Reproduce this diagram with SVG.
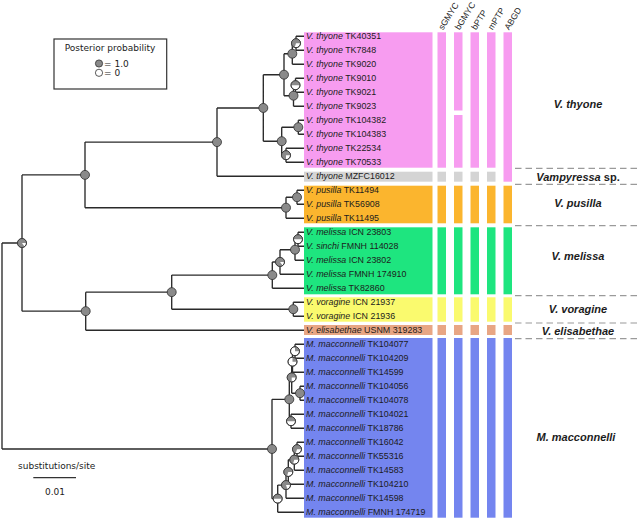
<svg xmlns="http://www.w3.org/2000/svg" width="640" height="520" viewBox="0 0 640 520">
<style>
.br{fill:none;stroke:#2a2a2a;stroke-width:1.35}
.nd{fill:#8a8a8a;stroke:#2e2e2e;stroke-width:0.8}
.wn{fill:#ffffff;stroke:#2e2e2e;stroke-width:0.8}
.wg{fill:#8a8a8a;stroke:none}
.ol{fill:none;stroke:#2e2e2e;stroke-width:0.8}
.tl{font-family:"Liberation Sans",Arial,sans-serif;font-size:8.9px;fill:#1c1c1c}
.tl .i{font-style:italic}
.hd{font-family:"Liberation Sans",Arial,sans-serif;font-size:8.6px;fill:#1c1c1c}
.gl{font-family:"Liberation Sans",Arial,sans-serif;font-size:11px;font-weight:bold;font-style:italic;fill:#1c1c1c;text-anchor:middle}
.dj{font-family:"DejaVu Sans",Verdana,sans-serif;font-size:9px;fill:#1c1c1c}
.dash{stroke:#9a9a9a;stroke-width:1.2;stroke-dasharray:6.5 4}
.pk{fill:#f79cf0}.gy{fill:#d4d4d4}.or{fill:#fbb52e}.gr{fill:#1ee57f}.ye{fill:#fafa6e}.sa{fill:#e8a684}.bl{fill:#7485ef}
</style>
<rect width="640" height="520" fill="#ffffff"/>

<g id="legend">
<rect x="54" y="39" width="112.7" height="50" fill="#ffffff" stroke="#333" stroke-width="1.2"/>
<text class="dj" x="110" y="50.5" text-anchor="middle">Posterior probability</text>
<circle cx="99" cy="63.5" r="3.6" class="nd"/>
<text class="dj" x="104" y="66.7">= 1.0</text>
<circle cx="99" cy="72.8" r="3.6" class="wn"/>
<text class="dj" x="104" y="76">= 0</text>
</g>

<g id="scalebar">
<text class="dj" x="56.7" y="469" text-anchor="middle">substitutions/site</text>
<line x1="33.3" y1="477.7" x2="76" y2="477.7" stroke="#333" stroke-width="1.2"/>
<text class="dj" x="55" y="495" text-anchor="middle">0.01</text>
</g>

<g id="bands">
<rect x="304" y="32.3" width="128.5" height="135.4" class="pk"/>
<rect x="304" y="171.7" width="128.5" height="10" class="gy"/>
<rect x="304" y="185.7" width="128.5" height="37.6" class="or"/>
<rect x="304" y="227.3" width="128.5" height="67" class="gr"/>
<rect x="304" y="297.3" width="128.5" height="24.4" class="ye"/>
<rect x="304" y="325" width="128.5" height="10" class="sa"/>
<rect x="304" y="338" width="128.5" height="179.7" class="bl"/>
</g>

<g id="columns">
<g id="col-sGMYC">
<rect x="437.5" y="32.3" width="8.5" height="135.4" class="pk"/>
<rect x="437.5" y="171.7" width="8.5" height="10" class="gy"/>
<rect x="437.5" y="185.7" width="8.5" height="37.6" class="or"/>
<rect x="437.5" y="227.3" width="8.5" height="67" class="gr"/>
<rect x="437.5" y="297.3" width="8.5" height="24.4" class="ye"/>
<rect x="437.5" y="325" width="8.5" height="10" class="sa"/>
<rect x="437.5" y="338" width="8.5" height="179.7" class="bl"/>
</g>
<g id="col-bGMYC">
<rect x="454" y="32.3" width="8.5" height="78.2" class="pk"/>
<rect x="454" y="115" width="8.5" height="52.7" class="pk"/>
<rect x="454" y="171.7" width="8.5" height="10" class="gy"/>
<rect x="454" y="185.7" width="8.5" height="37.6" class="or"/>
<rect x="454" y="227.3" width="8.5" height="67" class="gr"/>
<rect x="454" y="297.3" width="8.5" height="24.4" class="ye"/>
<rect x="454" y="325" width="8.5" height="10" class="sa"/>
<rect x="454" y="338" width="8.5" height="179.7" class="bl"/>
</g>
<g id="col-bPTP">
<rect x="470.5" y="32.3" width="8.5" height="135.4" class="pk"/>
<rect x="470.5" y="171.7" width="8.5" height="10" class="gy"/>
<rect x="470.5" y="185.7" width="8.5" height="37.6" class="or"/>
<rect x="470.5" y="227.3" width="8.5" height="67" class="gr"/>
<rect x="470.5" y="297.3" width="8.5" height="24.4" class="ye"/>
<rect x="470.5" y="325" width="8.5" height="10" class="sa"/>
<rect x="470.5" y="338" width="8.5" height="179.7" class="bl"/>
</g>
<g id="col-mPTP">
<rect x="487" y="32.3" width="8.5" height="135.4" class="pk"/>
<rect x="487" y="171.7" width="8.5" height="10" class="gy"/>
<rect x="487" y="185.7" width="8.5" height="37.6" class="or"/>
<rect x="487" y="227.3" width="8.5" height="67" class="gr"/>
<rect x="487" y="297.3" width="8.5" height="24.4" class="ye"/>
<rect x="487" y="325" width="8.5" height="10" class="sa"/>
<rect x="487" y="338" width="8.5" height="179.7" class="bl"/>
</g>
<g id="col-ABGD">
<rect x="503.5" y="32.3" width="8.5" height="149.4" class="pk"/>
<rect x="503.5" y="185.7" width="8.5" height="37.6" class="or"/>
<rect x="503.5" y="227.3" width="8.5" height="67" class="gr"/>
<rect x="503.5" y="297.3" width="8.5" height="24.4" class="ye"/>
<rect x="503.5" y="325" width="8.5" height="10" class="sa"/>
<rect x="503.5" y="338" width="8.5" height="179.7" class="bl"/>
</g>
<text class="hd" transform="translate(443,30.5) rotate(-58)">sGMYC</text>
<text class="hd" transform="translate(459.5,30.5) rotate(-58)">bGMYC</text>
<text class="hd" transform="translate(476,30.5) rotate(-58)">bPTP</text>
<text class="hd" transform="translate(492.5,30.5) rotate(-58)">mPTP</text>
<text class="hd" transform="translate(509,30.5) rotate(-58)">ABGD</text>
</g>

<g id="dividers">
<line x1="515" y1="168.3" x2="640" y2="168.3" class="dash"/>
<line x1="515" y1="184.3" x2="640" y2="184.3" class="dash"/>
<line x1="515" y1="225.7" x2="640" y2="225.7" class="dash"/>
<line x1="515" y1="295.7" x2="640" y2="295.7" class="dash"/>
<line x1="515" y1="323" x2="640" y2="323" class="dash"/>
<line x1="515" y1="338.7" x2="640" y2="338.7" class="dash"/>
</g>

<g id="group-labels">
<text class="gl" x="578" y="108">V. thyone</text>
<text class="gl" x="578" y="180.7">Vampyressa<tspan font-style="normal"> sp.</tspan></text>
<text class="gl" x="578" y="207.3">V. pusilla</text>
<text class="gl" x="578" y="259.7">V. melissa</text>
<text class="gl" x="578" y="313">V. voragine</text>
<text class="gl" x="578" y="334.7">V. elisabethae</text>
<text class="gl" x="576" y="441">M. macconnelli</text>
</g>

<g id="connectors">
<path class="br" d="
M2 243.03 V448.98 M2 243.03 H22 M2 448.98 H272
M22 174.89 V311.17 M22 174.89 H85 M22 311.17 H85.7
M85 142.08 V207.7 M85 142.08 H217 M85 207.7 H286
M217 107.95 V176.2 M217 107.95 H263.3 M217 176.2 H304
M263.3 74.7 V141.2 M263.3 74.7 H284 M263.3 141.2 H281.7
M284 53.7 V95.7 M284 53.7 H292.3 M284 95.7 H293.5
M292.3 43.2 V64.2 M292.3 43.2 H296 M292.3 64.2 H304
M296 36.2 V50.2 M296 36.2 H304 M296 50.2 H304
M293.5 85.2 V106.2 M293.5 85.2 H295.5 M293.5 106.2 H304
M295.5 78.2 V92.2 M295.5 78.2 H304 M295.5 92.2 H304
M281.7 127.2 V155.2 M281.7 127.2 H298.3 M281.7 155.2 H286
M298.3 120.2 V134.2 M298.3 120.2 H304 M298.3 134.2 H304
M286 148.2 V162.2 M286 148.2 H304 M286 162.2 H304
M286 197.2 V218.2 M286 197.2 H297 M286 218.2 H304
M297 190.2 V204.2 M297 190.2 H304 M297 204.2 H304
M85.7 292.14 V330.2 M85.7 292.14 H171.7 M85.7 330.2 H304
M171.7 275.08 V309.2 M171.7 275.08 H272.3 M171.7 309.2 H293.3
M272.3 261.95 V288.2 M272.3 261.95 H280 M272.3 288.2 H304
M280 249.7 V274.2 M280 249.7 H295 M280 274.2 H304
M295 239.2 V260.2 M295 239.2 H298 M295 260.2 H304
M298 232.2 V246.2 M298 232.2 H304 M298 246.2 H304
M293.3 302.2 V316.2 M293.3 302.2 H304 M293.3 316.2 H304
M272 399.33 V498.64 M272 399.33 H289.3 M272 498.64 H277.7
M289.3 377.45 V421.2 M289.3 377.45 H291.7 M289.3 421.2 H291
M291.7 361.7 V393.2 M291.7 361.7 H292.5 M291.7 393.2 H300
M292.5 351.2 V372.2 M292.5 351.2 H295 M292.5 372.2 H304
M295 344.2 V358.2 M295 344.2 H304 M295 358.2 H304
M300 386.2 V400.2 M300 386.2 H304 M300 400.2 H304
M291 414.2 V428.2 M291 414.2 H304 M291 428.2 H304
M277.7 485.08 V512.2 M277.7 485.08 H286 M277.7 512.2 H304
M286 471.95 V498.2 M286 471.95 H288.3 M286 498.2 H304
M288.3 459.7 V484.2 M288.3 459.7 H294.3 M288.3 484.2 H304
M294.3 449.2 V470.2 M294.3 449.2 H297 M294.3 470.2 H304
M297 442.2 V456.2 M297 442.2 H304 M297 456.2 H304"/>
</g>

<g id="nodes">
<g id="nA"><circle cx="22" cy="243.03" r="4.5" class="wn"/><path class="wg" d="M22 243.03 L26.5 243.03 A4.5 4.5 0 1 0 24.65 246.67 Z"/><circle cx="22" cy="243.03" r="4.5" class="ol"/></g>
<circle id="nB" cx="85" cy="174.89" r="4.5" class="nd"/>
<circle id="nC" cx="217" cy="142.08" r="4.5" class="nd"/>
<circle id="nG" cx="263.3" cy="107.95" r="4.5" class="nd"/>
<circle id="nH" cx="284" cy="74.7" r="4.5" class="nd"/>
<circle id="nH1" cx="292.3" cy="53.7" r="4.5" class="nd"/>
<g id="nH1a"><circle cx="296" cy="43.2" r="4.5" class="wn"/><path class="wg" d="M296 43.2 L300.5 43.2 A4.5 4.5 0 1 0 294.61 47.48 Z"/><circle cx="296" cy="43.2" r="4.5" class="ol"/></g>
<circle id="nH2" cx="293.5" cy="95.7" r="4.5" class="nd"/>
<g id="nH2a"><circle cx="295.5" cy="85.2" r="4.5" class="wn"/><path class="wg" d="M295.5 85.2 L300 85.2 A4.5 4.5 0 0 0 291 85.2 Z"/><circle cx="295.5" cy="85.2" r="4.5" class="ol"/></g>
<circle id="nI" cx="281.7" cy="141.2" r="4.5" class="nd"/>
<circle id="nI1" cx="298.3" cy="127.2" r="4.5" class="nd"/>
<g id="nI2"><circle cx="286" cy="155.2" r="4.5" class="wn"/><path class="wg" d="M286 155.2 L290.5 155.2 A4.5 4.5 0 1 0 286 159.7 Z"/><circle cx="286" cy="155.2" r="4.5" class="ol"/></g>
<circle id="nP" cx="286" cy="207.7" r="4.5" class="nd"/>
<circle id="nPa" cx="297" cy="197.2" r="4.5" class="nd"/>
<circle id="nD" cx="85.7" cy="311.17" r="4.5" class="nd"/>
<circle id="nE" cx="171.7" cy="292.14" r="4.5" class="nd"/>
<circle id="nF" cx="272.3" cy="275.08" r="4.5" class="nd"/>
<g id="nF1"><circle cx="280" cy="261.95" r="4.5" class="wn"/><path class="wg" d="M280 261.95 L284.5 261.95 A4.5 4.5 0 1 0 282.65 265.59 Z"/><circle cx="280" cy="261.95" r="4.5" class="ol"/></g>
<circle id="nF1a" cx="295" cy="249.7" r="4.5" class="nd"/>
<g id="nF1b"><circle cx="298" cy="239.2" r="4.5" class="wn"/><path class="wg" d="M298 239.2 L302.5 239.2 A4.5 4.5 0 0 0 293.5 239.2 Z"/><circle cx="298" cy="239.2" r="4.5" class="ol"/></g>
<circle id="nV" cx="293.3" cy="309.2" r="4.5" class="nd"/>
<circle id="nM" cx="272" cy="448.98" r="4.5" class="nd"/>
<circle id="n5" cx="289.3" cy="399.33" r="4.5" class="nd"/>
<g id="n3"><circle cx="291.7" cy="377.45" r="4.5" class="wn"/><path class="wg" d="M291.7 377.45 L296.2 377.45 A4.5 4.5 0 1 0 291.7 381.95 Z"/><circle cx="291.7" cy="377.45" r="4.5" class="ol"/></g>
<g id="n2"><circle cx="292.5" cy="361.7" r="4.5" class="wn"/><path class="wg" d="M292.5 361.7 L297 361.7 A4.5 4.5 0 0 0 292.5 357.2 Z"/><circle cx="292.5" cy="361.7" r="4.5" class="ol"/></g>
<g id="n1"><circle cx="295" cy="351.2" r="4.5" class="wn"/><path class="wg" d="M295 351.2 L299.5 351.2 A4.5 4.5 0 0 0 295 346.7 Z"/><circle cx="295" cy="351.2" r="4.5" class="ol"/></g>
<circle id="n4" cx="300" cy="393.2" r="4.5" class="nd"/>
<g id="n6"><circle cx="291" cy="421.2" r="4.5" class="wn"/><path class="wg" d="M291 421.2 L295.5 421.2 A4.5 4.5 0 0 0 286.5 421.2 Z"/><circle cx="291" cy="421.2" r="4.5" class="ol"/></g>
<g id="n11"><circle cx="277.7" cy="498.64" r="4.5" class="wn"/><path class="wg" d="M277.7 498.64 L282.2 498.64 A4.5 4.5 0 0 0 273.2 498.64 Z"/><circle cx="277.7" cy="498.64" r="4.5" class="ol"/></g>
<g id="n10"><circle cx="286" cy="485.08" r="4.5" class="wn"/><path class="wg" d="M286 485.08 L290.5 485.08 A4.5 4.5 0 1 0 287.39 489.36 Z"/><circle cx="286" cy="485.08" r="4.5" class="ol"/></g>
<g id="n9"><circle cx="288.3" cy="471.95" r="4.5" class="wn"/><path class="wg" d="M288.3 471.95 L292.8 471.95 A4.5 4.5 0 1 0 286.91 476.23 Z"/><circle cx="288.3" cy="471.95" r="4.5" class="ol"/></g>
<g id="n8"><circle cx="294.3" cy="459.7" r="4.5" class="wn"/><path class="wg" d="M294.3 459.7 L298.8 459.7 A4.5 4.5 0 1 0 292.91 463.98 Z"/><circle cx="294.3" cy="459.7" r="4.5" class="ol"/></g>
<g id="n7"><circle cx="297" cy="449.2" r="4.5" class="wn"/><path class="wg" d="M297 449.2 L301.5 449.2 A4.5 4.5 0 1 0 295.61 453.48 Z"/><circle cx="297" cy="449.2" r="4.5" class="ol"/></g>
</g>

<g id="tips" class="tl">
<text x="306" y="39.4"><tspan class="i">V. thyone</tspan> TK40351</text>
<text x="306" y="53.4"><tspan class="i">V. thyone</tspan> TK7848</text>
<text x="306" y="67.4"><tspan class="i">V. thyone</tspan> TK9020</text>
<text x="306" y="81.4"><tspan class="i">V. thyone</tspan> TK9010</text>
<text x="306" y="95.4"><tspan class="i">V. thyone</tspan> TK9021</text>
<text x="306" y="109.4"><tspan class="i">V. thyone</tspan> TK9023</text>
<text x="306" y="123.4"><tspan class="i">V. thyone</tspan> TK104382</text>
<text x="306" y="137.4"><tspan class="i">V. thyone</tspan> TK104383</text>
<text x="306" y="151.4"><tspan class="i">V. thyone</tspan> TK22534</text>
<text x="306" y="165.4"><tspan class="i">V. thyone</tspan> TK70533</text>
<text x="306" y="179.4"><tspan class="i">V. thyone</tspan> MZFC16012</text>
<text x="306" y="193.4"><tspan class="i">V. pusilla</tspan> TK11494</text>
<text x="306" y="207.4"><tspan class="i">V. pusilla</tspan> TK56908</text>
<text x="306" y="221.4"><tspan class="i">V. pusilla</tspan> TK11495</text>
<text x="306" y="235.4"><tspan class="i">V. melissa</tspan> ICN 23803</text>
<text x="306" y="249.4"><tspan class="i">V. sinchi</tspan> FMNH 114028</text>
<text x="306" y="263.4"><tspan class="i">V. melissa</tspan> ICN 23802</text>
<text x="306" y="277.4"><tspan class="i">V. melissa</tspan> FMNH 174910</text>
<text x="306" y="291.4"><tspan class="i">V. melissa</tspan> TK82860</text>
<text x="306" y="305.4"><tspan class="i">V. voragine</tspan> ICN 21937</text>
<text x="306" y="319.4"><tspan class="i">V. voragine</tspan> ICN 21936</text>
<text x="306" y="333.4"><tspan class="i">V. elisabethae</tspan> USNM 319283</text>
<text x="306" y="347.4"><tspan class="i">M. macconnelli</tspan> TK104077</text>
<text x="306" y="361.4"><tspan class="i">M. macconnelli</tspan> TK104209</text>
<text x="306" y="375.4"><tspan class="i">M. macconnelli</tspan> TK14599</text>
<text x="306" y="389.4"><tspan class="i">M. macconnelli</tspan> TK104056</text>
<text x="306" y="403.4"><tspan class="i">M. macconnelli</tspan> TK104078</text>
<text x="306" y="417.4"><tspan class="i">M. macconnelli</tspan> TK104021</text>
<text x="306" y="431.4"><tspan class="i">M. macconnelli</tspan> TK18786</text>
<text x="306" y="445.4"><tspan class="i">M. macconnelli</tspan> TK16042</text>
<text x="306" y="459.4"><tspan class="i">M. macconnelli</tspan> TK55316</text>
<text x="306" y="473.4"><tspan class="i">M. macconnelli</tspan> TK14583</text>
<text x="306" y="487.4"><tspan class="i">M. macconnelli</tspan> TK104210</text>
<text x="306" y="501.4"><tspan class="i">M. macconnelli</tspan> TK14598</text>
<text x="306" y="515.4"><tspan class="i">M. macconnelli</tspan> FMNH 174719</text>
</g>
</svg>
